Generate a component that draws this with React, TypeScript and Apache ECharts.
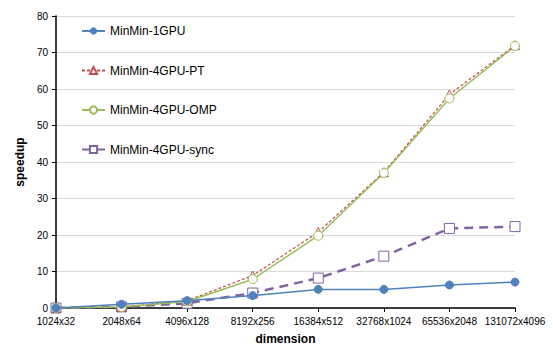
import React, { useEffect, useRef } from "react";
import * as echarts from "echarts";

const categories = ["1024x32", "2048x64", "4096x128", "8192x256", "16384x512", "32768x1024", "65536x2048", "131072x4096"];
const gpu1 = [0, 1, 2, 3.4, 5.1, 5.1, 6.3, 7.1];
const gpu4pt = [0, 0.3, 2, 8.9, 20.8, 37.2, 58.5, 72];
const gpu4omp = [0, 0.3, 1.8, 7.9, 19.8, 37, 57.4, 71.8];
const gpu4sync = [0, 0.3, 1.3, 4.1, 8.2, 14.2, 21.8, 22.3];
const yTicks = [0, 10, 20, 30, 40, 50, 60, 70, 80];

export default function App() {
  const ref = useRef<HTMLDivElement>(null);
  useEffect(() => {
    const chart = echarts.init(ref.current!, null, { renderer: "svg" });
    const font = "'Liberation Sans', Arial, sans-serif";
    chart.setOption({
      animation: false,
      backgroundColor: "#ffffff",
      textStyle: { fontFamily: font },
      grid: { left: 56, right: 38, top: 16, bottom: 43, containLabel: false },
      legend: {
        orient: "vertical",
        left: 81,
        top: 25,
        padding: 0,
        itemGap: 27.5,
        itemWidth: 23,
        itemHeight: 9,
        textStyle: { fontSize: 12, color: "#000", fontFamily: font },
        data: ["MinMin-1GPU", "MinMin-4GPU-PT", "MinMin-4GPU-OMP", "MinMin-4GPU-sync"],
      },
      xAxis: {
        type: "category",
        data: categories,
        boundaryGap: false,
        name: "dimension",
        nameLocation: "middle",
        nameGap: 25,
        nameTextStyle: { fontWeight: "bold", fontSize: 12, color: "#000", fontFamily: font },
        axisLine: { lineStyle: { color: "#000", width: 1.5 } },
        axisTick: { show: true, alignWithLabel: true, lineStyle: { color: "#000" }, length: 4 },
        axisLabel: { color: "#000", fontSize: 10, margin: 8, interval: 0, fontFamily: font },
        splitLine: { show: false },
      },
      yAxis: {
        type: "value",
        min: yTicks[0],
        max: yTicks[yTicks.length - 1],
        interval: 10,
        name: "speedup",
        nameLocation: "middle",
        nameGap: 30,
        nameTextStyle: { fontWeight: "bold", fontSize: 12, color: "#000", fontFamily: font },
        axisLine: { show: true, lineStyle: { color: "#000", width: 1.5 } },
        axisTick: { show: true, lineStyle: { color: "#000" }, length: 4 },
        axisLabel: { color: "#000", fontSize: 10, margin: 8, fontFamily: font },
        splitLine: { show: true, lineStyle: { color: "#d9d9d9", width: 1 } },
      },
      series: [
        {
          name: "MinMin-1GPU",
          type: "line",
          data: gpu1,
          symbol: "circle",
          symbolSize: 8,
          lineStyle: { color: "#4f81bd", width: 1.5 },
          itemStyle: { color: "#4f81bd", borderColor: "#4f81bd" },
          z: 4,
        },
        {
          name: "MinMin-4GPU-PT",
          type: "line",
          data: gpu4pt,
          symbol: "triangle",
          symbolSize: 9,
          lineStyle: { color: "#c0504d", width: 1.2, type: [3, 2] },
          itemStyle: { color: "#ffffff", borderColor: "#c0504d", borderWidth: 1 },
          z: 3,
        },
        {
          name: "MinMin-4GPU-OMP",
          type: "line",
          data: gpu4omp,
          symbol: "circle",
          symbolSize: 9,
          lineStyle: { color: "#9bbb59", width: 1.5 },
          itemStyle: { color: "#ffffff", borderColor: "#9bbb59", borderWidth: 1 },
          z: 3,
        },
        {
          name: "MinMin-4GPU-sync",
          type: "line",
          data: gpu4sync,
          symbol: "rect",
          symbolSize: 10,
          lineStyle: { color: "#8064a2", width: 2.5, type: [9, 6] },
          itemStyle: { color: "#ffffff", borderColor: "#8064a2", borderWidth: 1 },
          z: 2,
        },
      ],
    });
    return () => chart.dispose();
  }, []);
  return <div ref={ref} style={{ width: 553, height: 351, position: "absolute", left: 0, top: 0 }} />;
}
